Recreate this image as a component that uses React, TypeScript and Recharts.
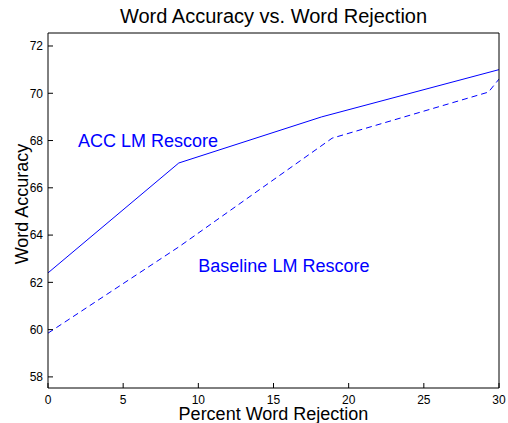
import React from 'react';
import { LineChart, Line, XAxis, YAxis, ReferenceDot } from 'recharts';

const accX = [0, 8.7, 18.2, 30];
const accY = [62.4, 67.05, 69.0, 71.0];
const baseX = [0, 8.7, 18.9, 29.3, 30];
const baseY = [59.85, 63.5, 68.1, 70.05, 70.6];
const xTicks = [0, 5, 10, 15, 20, 25, 30];
const yTicks = [58, 60, 62, 64, 66, 68, 70, 72];
const titleText = 'Word Accuracy vs. Word Rejection';
const xLabelText = 'Percent Word Rejection';
const yLabelText = 'Word Accuracy';
const accLabel = { x: 2, y: 68, text: 'ACC LM Rescore' };
const baseLabel = { x: 10, y: 62.7, text: 'Baseline LM Rescore' };

const accData = accX.map((x, i) => ({ x, y: accY[i] }));
const baseData = baseX.map((x, i) => ({ x, y: baseY[i] }));

const FONT = '"Liberation Sans", Arial, Helvetica, sans-serif';
const BLUE = '#0000ff';
const W = 508;
const H = 423;
const TICK_LEN = 5;
const X_MARGIN = 7;
const Y_MARGIN = 5;

const BottomTick = (props: any) => {
  const { x, y, payload } = props;
  const axisY = y - X_MARGIN;
  return (
    <g>
      <line x1={x} x2={x} y1={axisY} y2={axisY - TICK_LEN} stroke="#000" strokeWidth={1} />
      <text x={x} y={y} dy="0.71em" textAnchor="middle" fontSize={12} fontFamily={FONT} fill="#000">
        {payload.value}
      </text>
    </g>
  );
};

const LeftTick = (props: any) => {
  const { x, y, payload } = props;
  const axisX = x + Y_MARGIN;
  return (
    <g>
      <line x1={axisX} x2={axisX + TICK_LEN} y1={y} y2={y} stroke="#000" strokeWidth={1} />
      <text x={x} y={y} dy="0.36em" textAnchor="end" fontSize={12} fontFamily={FONT} fill="#000">
        {payload.value}
      </text>
    </g>
  );
};

export default function App() {
  const axisLine = { stroke: '#000', strokeWidth: 1 };
  return (
    <div style={{ position: 'absolute', left: 0, top: 0, width: W, height: H, background: '#fff' }}>
      <LineChart width={W} height={H} margin={{ top: 33, right: 9, bottom: 0, left: 0 }}>
        <XAxis
          xAxisId="b"
          type="number"
          dataKey="x"
          domain={[0, 30]}
          ticks={xTicks}
          height={35}
          tickSize={0}
          tickMargin={X_MARGIN}
          axisLine={axisLine}
          tickLine={false}
          tick={<BottomTick />}
          interval={0}
          allowDataOverflow
        />
        <XAxis
          xAxisId="t"
          orientation="top"
          type="number"
          dataKey="x"
          domain={[0, 30]}
          ticks={xTicks}
          height={1}
          mirror
          tickSize={TICK_LEN}
          axisLine={axisLine}
          tickLine={{ stroke: '#000' }}
          tick={false}
          interval={0}
          allowDataOverflow
        />
        <YAxis
          yAxisId="l"
          type="number"
          dataKey="y"
          domain={[57.53, 72.55]}
          ticks={yTicks}
          width={48}
          tickSize={0}
          tickMargin={Y_MARGIN}
          axisLine={axisLine}
          tickLine={false}
          tick={<LeftTick />}
          interval={0}
          allowDataOverflow
        />
        <YAxis
          yAxisId="r"
          orientation="right"
          type="number"
          dataKey="y"
          domain={[57.53, 72.55]}
          ticks={yTicks}
          width={1}
          mirror
          tickSize={TICK_LEN}
          axisLine={axisLine}
          tickLine={{ stroke: '#000' }}
          tick={false}
          interval={0}
          allowDataOverflow
        />
        <Line
          xAxisId="b"
          yAxisId="l"
          data={accData}
          dataKey="y"
          type="linear"
          stroke={BLUE}
          strokeWidth={1}
          dot={false}
          activeDot={false}
          isAnimationActive={false}
        />
        <Line
          xAxisId="t"
          yAxisId="r"
          data={baseData}
          dataKey="y"
          type="linear"
          stroke={BLUE}
          strokeWidth={1}
          strokeDasharray="6 4"
          dot={false}
          activeDot={false}
          isAnimationActive={false}
        />
        <ReferenceDot
          xAxisId="b"
          yAxisId="l"
          x={accLabel.x}
          y={accLabel.y}
          r={0}
          fill="none"
          stroke="none"
          label={{ value: accLabel.text, position: 'right', offset: 0, fill: BLUE, fontSize: 18, fontFamily: FONT }}
        />
        <ReferenceDot
          xAxisId="b"
          yAxisId="l"
          x={baseLabel.x}
          y={baseLabel.y}
          r={0}
          fill="none"
          stroke="none"
          label={{ value: baseLabel.text, position: 'right', offset: 0, fill: BLUE, fontSize: 18, fontFamily: FONT }}
        />
      </LineChart>
      <svg
        width={W}
        height={H}
        style={{ position: 'absolute', left: 0, top: 0, pointerEvents: 'none' }}
      >
        <text x={273.5} y={23} textAnchor="middle" fontSize={20} fontFamily={FONT} fill="#000">
          {titleText}
        </text>
        <text x={273.5} y={420} textAnchor="middle" fontSize={18} fontFamily={FONT} fill="#000">
          {xLabelText}
        </text>
        <text
          x={0}
          y={0}
          transform="translate(28,204) rotate(-90)"
          textAnchor="middle"
          fontSize={18}
          fontFamily={FONT}
          fill="#000"
        >
          {yLabelText}
        </text>
      </svg>
    </div>
  );
}
